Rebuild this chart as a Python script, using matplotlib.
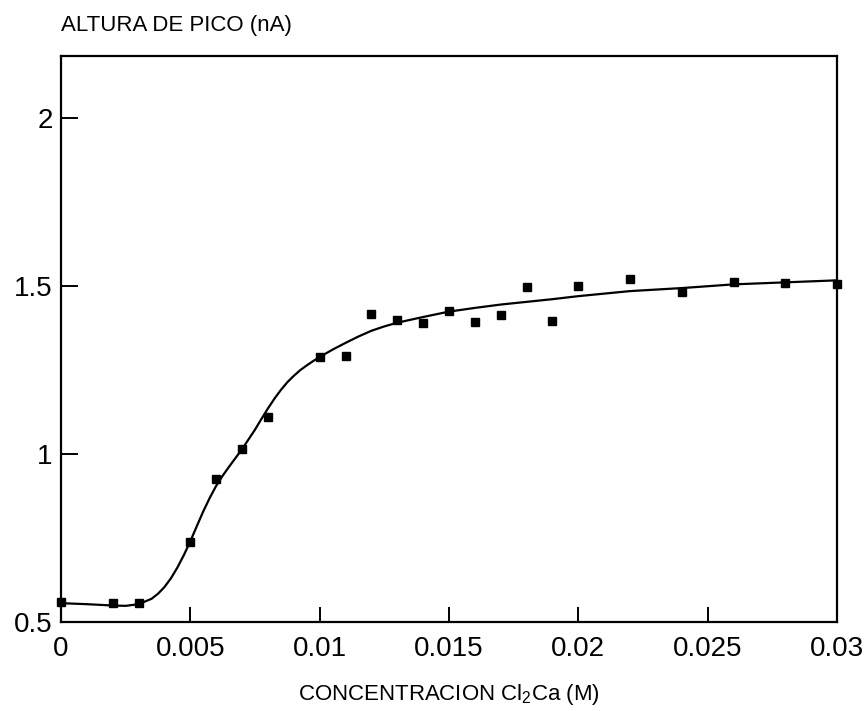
import matplotlib
matplotlib.use("Agg")
import matplotlib.pyplot as plt
from matplotlib.ticker import FuncFormatter

plt.rcParams['font.family'] = ['Liberation Sans', 'DejaVu Sans']
plt.rcParams['mathtext.fontset'] = 'custom'
plt.rcParams['mathtext.rm'] = 'Liberation Sans'
plt.rcParams['mathtext.it'] = 'Liberation Sans'

# measured points
conc = [0.0, 0.002, 0.003, 0.005, 0.006, 0.007, 0.008, 0.010, 0.011, 0.012,
        0.013, 0.014, 0.015, 0.016, 0.017, 0.018, 0.019, 0.020, 0.022, 0.024,
        0.026, 0.028, 0.030]
height = [0.559, 0.557, 0.557, 0.739, 0.924, 1.014, 1.110, 1.288, 1.292, 1.415,
          1.397, 1.388, 1.426, 1.391, 1.412, 1.496, 1.395, 1.499, 1.519, 1.482,
          1.510, 1.507, 1.504]

# fitted curve
curve_x = [0.0, 0.001, 0.002, 0.0025, 0.003, 0.0035, 0.00375, 0.004, 0.00425,
           0.0045, 0.00475, 0.005, 0.00525, 0.0055, 0.00575, 0.006, 0.00625,
           0.0065, 0.00675, 0.007, 0.00725, 0.0075, 0.00775, 0.008, 0.00825,
           0.0085, 0.00875, 0.009, 0.00925, 0.0095, 0.00975, 0.010, 0.0105,
           0.011, 0.0115, 0.012, 0.0125, 0.013, 0.014, 0.015, 0.016, 0.017,
           0.018, 0.019, 0.020, 0.022, 0.024, 0.026, 0.028, 0.030]
curve_y = [0.556, 0.553, 0.549, 0.548, 0.553, 0.569, 0.584, 0.604, 0.630,
           0.662, 0.699, 0.740, 0.785, 0.829, 0.869, 0.905, 0.935, 0.962,
           0.988, 1.014, 1.043, 1.072, 1.104, 1.135, 1.164, 1.190, 1.213,
           1.232, 1.249, 1.263, 1.276, 1.288, 1.310, 1.330, 1.349, 1.366,
           1.379, 1.390, 1.407, 1.423, 1.434, 1.444, 1.452, 1.460, 1.469,
           1.484, 1.493, 1.504, 1.510, 1.516]

xticks = [0, 0.005, 0.01, 0.015, 0.02, 0.025, 0.03]
yticks = [0.5, 1, 1.5, 2]

fig = plt.figure(figsize=(8.66, 7.11), dpi=100)
ax = fig.add_axes([61/866, 1 - 622/711, (837 - 61)/866, (622 - 55.7)/711])

ax.plot(curve_x, curve_y, color='black', lw=1.6, clip_on=False, zorder=2,
        solid_joinstyle='round')
ax.plot(conc, height, linestyle='none', marker='s', ms=5.3, color='black',
        clip_on=False, zorder=3)

ax.set_xlim(0, 0.03)
ax.set_ylim(0.5, 2.184)
ax.set_xticks(xticks)
ax.set_yticks(yticks)
fmt = FuncFormatter(lambda v, p: ('%g' % v))
ax.xaxis.set_major_formatter(fmt)
ax.yaxis.set_major_formatter(fmt)
ax.tick_params(axis='x', direction='in', length=11, width=1.4, labelsize=20, pad=10)
ax.tick_params(axis='y', direction='in', length=12, width=1.4, labelsize=20, pad=6)
for s in ax.spines.values():
    s.set_linewidth(1.6)

fig.text(61/866, 1 - 31.5/711, 'ALTURA DE PICO (nA)', fontsize=16,
         ha='left', va='baseline')
fig.text(449/866, 1 - 700/711, r'CONCENTRACION Cl$_2$Ca (M)', fontsize=16,
         ha='center', va='baseline')

fig.savefig('out.png', dpi=100)
